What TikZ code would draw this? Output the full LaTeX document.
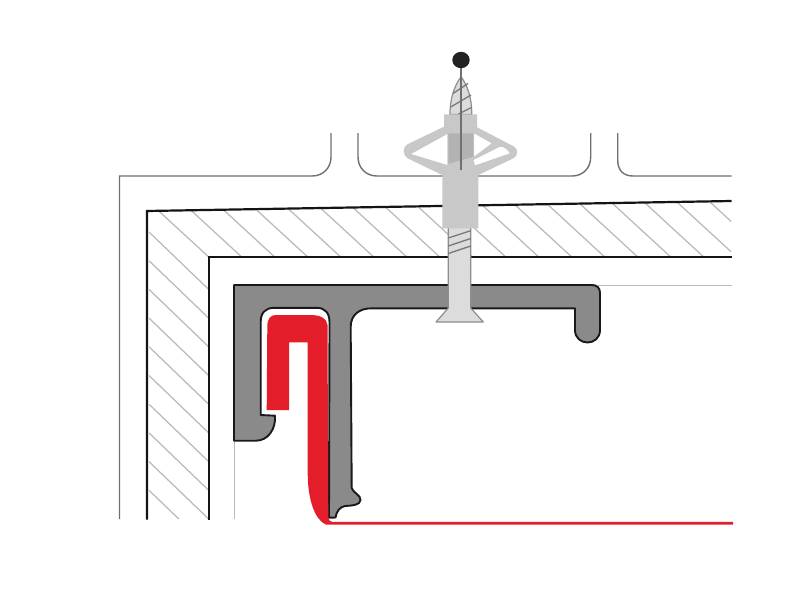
\documentclass[tikz,border=0pt]{standalone}
\definecolor{hatchc}{HTML}{BABABA}
\definecolor{thinc}{HTML}{707070}
\definecolor{profilec}{HTML}{8A8A8A}
\definecolor{redc}{HTML}{E31E2A}
\definecolor{anchorc}{HTML}{C8C8C8}
\definecolor{anchordk}{HTML}{B2B2B2}
\definecolor{screwc}{HTML}{DCDCDC}
\definecolor{screwl}{HTML}{8E8E8E}
\definecolor{ballc}{HTML}{222222}
\tikzset{
  hatchline/.style={draw=hatchc,line width=1.25pt},
  thinline/.style={draw=thinc,line width=1.4pt},
  wallline/.style={draw=black!92,line width=2.2pt},
  profile/.style={fill=profilec,draw=black!90,line width=1.9pt,line join=round},
  redpart/.style={fill=redc,draw=none},
  anchorpart/.style={fill=anchorc,draw=none},
  screwpart/.style={fill=screwc,draw=screwl,line width=1.2pt,line join=round},
  thread/.style={draw=screwl!85!black,line width=1.3pt}
}
\begin{document}
\begin{tikzpicture}[x=1pt,y=-1pt]
\useasboundingbox (0,0) rectangle (800,600);
\fill[white] (0,0) rectangle (800,600);
% hatching
\begin{scope}
\clip (149,519) -- (149,211) -- (731,201) -- (731,257) -- (209,257) -- (209,519) -- cycle;
\foreach \k in {0,...,17} {
  \pgfmathsetmacro{\xs}{159.5+33*\k}
  \draw[hatchline] (\xs-20,211.7-18.4) -- (\xs+80,211.7+73.6);
}
\foreach \k in {0,...,9} {
  \pgfmathsetmacro{\ys}{232+28.7*\k}
  \draw[hatchline] (149,\ys) -- (215,\ys+63.5);
}
\end{scope}
% thin outlines
\draw[thinline] (119.5,519) -- (119.5,176) -- (312,176) .. controls (323,176) and (331,168) .. (331,157) -- (331,133);
\draw[thinline] (358,133) -- (358,157) .. controls (358,168) and (366,176) .. (377,176) -- (572,176) .. controls (583,176) and (590.7,168) .. (590.7,157) -- (590.7,133);
\draw[thinline] (617.7,133) -- (617.7,160) .. controls (617.7,170) and (623,176) .. (633,176) -- (731.5,176);
\draw[draw=hatchc,line width=1.2pt] (234.3,440) -- (234.3,519);
\draw[draw=hatchc,line width=1.2pt] (598,285.5) -- (731.5,285.5);
% wall
\draw[wallline,line join=miter] (147,519.5) -- (147,211) -- (731.5,201);
\draw[wallline,line join=miter] (209.3,519.5) -- (209.3,257.3) -- (731.5,257.3);
% profile
\draw[profile] (234,285) -- (592,285)
  .. controls (597,285) and (600,288) .. (600,293)
  -- (600,330) .. controls (600,338) and (594,342.5) .. (587.5,342.5)
  .. controls (581,342.5) and (575,338) .. (575,330)
  -- (575,308.3) -- (371.7,308.3)
  .. controls (359,308.3) and (350.7,315) .. (350.7,327)
  -- (351.7,488)
  .. controls (353,493) and (361,495) .. (360.5,500)
  .. controls (360,505) and (353,505.5) .. (345,506)
  .. controls (340,507) and (336.5,511) .. (335.5,517.5)
  -- (329,517.7) -- (329.5,322)
  .. controls (329.5,313) and (325,308) .. (317,307.8)
  -- (274,307.8)
  .. controls (265,308) and (260.7,313) .. (260.7,322)
  -- (260.7,415) -- (275,415.7)
  .. controls (276,429) and (268,440.7) .. (256,440.7)
  -- (234,440.7) -- cycle;
% red insert
\path[redpart] (266.7,410) -- (267.3,327)
  .. controls (267.3,319) and (270,315) .. (276,315)
  -- (310,315) .. controls (320,315) and (327,318) .. (327.5,325)
  -- (328.3,517) .. controls (328.6,520) and (329.5,521.6) .. (332,521.8)
  -- (733,521.8) -- (733,524.6) -- (326,524.6)
  .. controls (315,520) and (307.7,500) .. (307.7,473)
  -- (307.7,342.3) -- (289,342.3) -- (289,410) -- cycle;
% screw shaft
\draw[screwpart] (448.3,226) -- (448.3,308) -- (436,322) -- (483.3,322) -- (470.7,308) -- (470.7,226);
\draw[thread] (448.3,238) -- (470.7,230.7);
\draw[thread] (448.3,246) -- (470.7,238.5);
\draw[thread] (448.3,253.5) -- (470.7,246);
% screw tip
\draw[screwpart] (450,114.5) .. controls (450,97) and (455,85) .. (461,76.7)
  .. controls (467,85) and (472,97) .. (471.7,114.5) -- cycle;
\draw[thread] (453,93.5) -- (468,83.5);
\draw[thread] (450.7,107) -- (471,95);
\draw[thread] (458.5,114) -- (471.5,107.5);
% anchor
\path[anchorpart,even odd rule]
  (444,114.3) -- (477,114.3) -- (477,127.3) -- (514,146.5)
  .. controls (518,149) and (518.5,155) .. (514,158)
  -- (478.3,175) -- (478.3,228.3) -- (442.3,228.3) -- (442.3,175) -- (409,159)
  .. controls (402,155.5) and (402,147.5) .. (408,144)
  -- (444,126.7) -- cycle
  (447.3,134) -- (411,154) -- (447.3,165) -- cycle
  (474,133.3) -- (491.7,143.3) -- (474,156.7) -- cycle
  (510,153.3) .. controls (508,150) and (504,146.5) .. (500,146.7) -- (473.3,160) -- (475,165.5) -- cycle;
\fill[anchordk] (448.3,133.3) -- (473.3,133.3) -- (473.3,157) -- (448.3,164) -- cycle;
\fill[anchorc] (448.3,164) -- (473.3,157) -- (473.3,170) -- (448.3,170) -- cycle;
% pin and ball
\draw[draw=thinc,line width=1.5pt] (461,62) -- (461,170);
\fill[ballc] (461,60) ellipse [x radius=8.7pt,y radius=8.2pt];
\end{tikzpicture}
\end{document}
